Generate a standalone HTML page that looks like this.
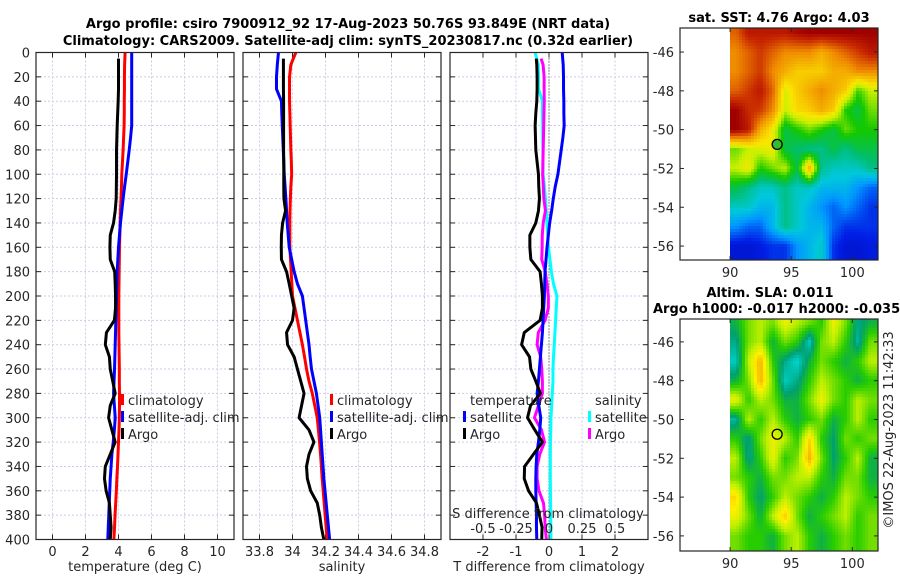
<!DOCTYPE html>
<html><head><meta charset="utf-8">
<style>
html,body{margin:0;padding:0;background:#fff;}
#wrap{position:relative;width:900px;height:580px;overflow:hidden;background:#fff;}
canvas{position:absolute;image-rendering:pixelated;}
svg{position:absolute;left:0;top:0;}
text{font-family:"DejaVu Sans","Liberation Sans",sans-serif;fill:#262626;}
.b{font-weight:bold;fill:#000;}
</style></head>
<body>
<div id="wrap">
<canvas id="sstmap" width="148" height="232" style="left:730px;top:28px;width:148px;height:232px"></canvas>
<canvas id="slamap" width="148" height="232" style="left:730px;top:319px;width:148px;height:232px"></canvas>
<svg id="fig" width="900" height="580" viewBox="0 0 900 580"></svg>
</div>
<script>
// ---- data ----
const climDepth = [0,10,20,30,40,50,60,70,80,90,100,110,120,130,140,150,160,170,180,190,200,210,220,230,240,250,260,270,280,290,300,310,320,330,340,350,360,370,380,390,400];
const argoDepth = [5,10,20,30,40,50,60,70,80,90,100,110,120,130,140,150,160,170,180,190,200,210,220,230,240,250,260,270,280,290,300,310,320,330,340,350,360,370,380,390,400];
const climT = [4.4,4.37,4.36,4.36,4.35,4.35,4.34,4.31,4.28,4.24,4.2,4.18,4.15,4.12,4.1,4.08,4.06,4.05,4.04,4.03,4.02,4.02,4.02,4.02,4.03,4.04,4.05,4.05,4.06,4.06,4.05,4.03,4.0,3.97,3.94,3.9,3.87,3.83,3.79,3.76,3.72];
const satT = [4.8,4.8,4.8,4.8,4.8,4.8,4.8,4.73,4.65,4.56,4.47,4.37,4.28,4.2,4.12,4.06,4.0,3.96,3.92,3.9,3.88,3.86,3.84,3.82,3.8,3.78,3.76,3.73,3.7,3.75,3.8,3.75,3.68,3.6,3.55,3.5,3.47,3.44,3.41,3.38,3.35];
const argoT = [4.0,4.0,4.0,4.0,3.98,3.95,3.92,3.9,3.88,3.88,3.88,3.87,3.86,3.8,3.7,3.5,3.48,3.5,3.77,3.8,3.82,3.82,3.75,3.27,3.2,3.45,3.5,3.65,3.8,3.5,3.4,3.6,3.8,3.5,3.2,3.15,3.25,3.45,3.5,3.55,3.5];
const climS = [34.02,33.99,33.982,33.982,33.982,33.984,33.986,33.988,33.99,33.993,33.995,33.99,33.987,33.985,33.984,33.984,33.984,33.988,33.992,33.996,34.0,34.015,34.03,34.045,34.06,34.073,34.085,34.1,34.12,34.135,34.15,34.157,34.164,34.17,34.175,34.18,34.186,34.192,34.198,34.204,34.21];
const satS = [33.915,33.908,33.903,33.903,33.933,33.935,33.938,33.941,33.944,33.947,33.95,33.955,33.96,33.964,33.968,33.974,33.98,33.995,34.01,34.03,34.06,34.07,34.08,34.09,34.1,34.107,34.115,34.13,34.145,34.155,34.165,34.17,34.175,34.18,34.185,34.19,34.197,34.204,34.211,34.218,34.225];
const argoS = [33.945,33.945,33.945,33.945,33.946,33.946,33.946,33.946,33.946,33.947,33.947,33.947,33.948,33.958,33.94,33.933,33.932,33.933,33.964,33.98,33.995,34.01,34.0,33.964,33.97,34.01,34.03,34.05,34.07,34.055,34.04,34.1,34.13,34.1,34.085,34.09,34.11,34.15,34.165,34.175,34.19];
const tempTicks = [0,2,4,6,8,10];
const salTicks = [33.8,34,34.2,34.4,34.6,34.8];
const tdiffTicks = [-2,-1,0,1,2];
const sdiffTicks = [-0.5,-0.25,0,0.25,0.5];
const depthTicks = [0,20,40,60,80,100,120,140,160,180,200,220,240,260,280,300,320,340,360,380,400];
const latTicks = [-46,-48,-50,-52,-54,-56];
const lonTicks = [90,95,100];
// SST map (jet index 0..1), rows from -45 to -56 lat, cols 90..101 lon
const sstGrid = [
[0.85,0.95,0.95,0.95,0.95,0.98,1,1,1,1,1,1],
[0.8,0.85,0.9,0.85,0.8,0.8,0.8,0.75,0.8,0.85,0.9,0.95],
[0.8,0.85,0.9,0.8,0.75,0.7,0.7,0.7,0.75,0.75,0.8,0.8],
[0.85,0.9,0.95,0.85,0.62,0.7,0.75,0.8,0.75,0.7,0.52,0.6],
[1,0.92,0.9,0.8,0.6,0.68,0.7,0.75,0.7,0.5,0.45,0.55],
[1,0.95,0.75,0.65,0.45,0.5,0.55,0.5,0.45,0.55,0.5,0.5],
[0.55,0.6,0.62,0.65,0.45,0.42,0.4,0.4,0.45,0.4,0.45,0.45],
[0.6,0.65,0.5,0.55,0.6,0.45,0.75,0.4,0.35,0.35,0.35,0.4],
[0.45,0.4,0.35,0.35,0.4,0.35,0.35,0.3,0.3,0.3,0.25,0.2],
[0.35,0.35,0.3,0.3,0.4,0.35,0.3,0.25,0.2,0.25,0.2,0.15],
[0.25,0.2,0.2,0.3,0.4,0.35,0.3,0.3,0.2,0.15,0.15,0.15],
[0.1,0.1,0.12,0.15,0.15,0.25,0.3,0.35,0.15,0.1,0.1,0.12]];
const slaGrid = [
[0.45,0.55,0.6,0.55,0.65,0.6,0.55,0.5,0.65,0.55,0.4,0.45],
[0.4,0.55,0.6,0.45,0.55,0.5,0.35,0.55,0.6,0.5,0.38,0.55],
[0.35,0.6,0.75,0.5,0.4,0.33,0.45,0.55,0.5,0.45,0.5,0.6],
[0.45,0.55,0.75,0.55,0.35,0.4,0.5,0.6,0.55,0.5,0.45,0.5],
[0.65,0.5,0.6,0.55,0.45,0.45,0.55,0.65,0.55,0.5,0.6,0.55],
[0.38,0.6,0.5,0.6,0.5,0.45,0.5,0.55,0.45,0.5,0.6,0.5],
[0.5,0.4,0.55,0.65,0.6,0.5,0.7,0.5,0.42,0.55,0.5,0.55],
[0.6,0.4,0.5,0.65,0.5,0.55,0.75,0.55,0.42,0.5,0.6,0.45],
[0.55,0.5,0.45,0.55,0.55,0.6,0.6,0.5,0.45,0.55,0.55,0.45],
[0.7,0.5,0.42,0.5,0.6,0.55,0.5,0.45,0.5,0.6,0.55,0.5],
[0.65,0.55,0.45,0.6,0.72,0.55,0.45,0.5,0.55,0.6,0.5,0.55],
[0.55,0.5,0.5,0.45,0.55,0.6,0.5,0.45,0.5,0.55,0.5,0.55]];
const argoLon = [93.849];
const argoLat = [-50.76];

// ---- helpers ----
const NS='http://www.w3.org/2000/svg';
const svg=document.getElementById('fig');
function mk(tag,attrs,parent){const e=document.createElementNS(NS,tag);for(const k in attrs)e.setAttribute(k,attrs[k]);(parent||svg).appendChild(e);return e;}
function txt(x,y,s,opt,parent){const e=mk('text',Object.assign({x:x,y:y,'font-size':13},opt||{}),parent);e.textContent=s;return e;}

const Y0=52.5, Y1=539.5;
const yD = d => Y0 + (d/400)*(Y1-Y0);
const panels=[
 {x0:36,x1:234,lo:-1,hi:11,name:'temperature-panel'},
 {x0:243,x1:441,lo:33.7,hi:34.9,name:'salinity-panel'},
 {x0:450,x1:648,lo:-3,hi:3,name:'difference-panel'}];
const xT = v => panels[0].x0 + (v-panels[0].lo)/(panels[0].hi-panels[0].lo)*198;
const xS = v => panels[1].x0 + (v-panels[1].lo)/(panels[1].hi-panels[1].lo)*198;
const xDT = v => panels[2].x0 + (v-panels[2].lo)/(panels[2].hi-panels[2].lo)*198;
const xDS = v => xDT(v*4);
function interp(xs,ys,x){for(let i=0;i<xs.length-1;i++){if(x>=xs[i]&&x<=xs[i+1]){const t=(x-xs[i])/(xs[i+1]-xs[i]);return ys[i]+t*(ys[i+1]-ys[i]);}}return x<xs[0]?ys[0]:ys[ys.length-1];}

function frame(p,xticks,xfn,xlabelFmt){
  const g=mk('g',{});
  
  
  // grid
  xticks.forEach(t=>{const x=xfn(t);const l=mk('line',{x1:x,x2:x,y1:Y0,y2:Y1,stroke:'#c9cde8','stroke-width':1,'stroke-dasharray':'2,2'},g);});
  depthTicks.forEach(d=>{const y=yD(d);const l=mk('line',{x1:p.x0,x2:p.x1,y1:y,y2:y,stroke:'#c9cde8','stroke-width':1,'stroke-dasharray':'2,2'},g);});
  // ticks
  depthTicks.forEach(d=>{const y=yD(d);mk('line',{x1:p.x0,x2:p.x0+5,y1:y,y2:y,stroke:'#262626'},g);mk('line',{x1:p.x1-5,x2:p.x1,y1:y,y2:y,stroke:'#262626'},g);});
  xticks.forEach(t=>{const x=xfn(t);mk('line',{x1:x,x2:x,y1:Y1,y2:Y1-5,stroke:'#262626'},g);mk('line',{x1:x,x2:x,y1:Y0,y2:Y0+5,stroke:'#262626'},g);
    const tl=txt(x,556,xlabelFmt(t),{'text-anchor':'middle'},g);});
  return g;
}
function line(xs,ds,xfn,color,name,w){
  let d='';xs.forEach((v,i)=>{d+=(i?'L':'M')+xfn(v).toFixed(2)+','+yD(ds[i]).toFixed(2);});
  const e=mk('path',{d:d,fill:'none',stroke:color,'stroke-width':w||3,'stroke-linejoin':'round'});
  
  
  return e;
}
function legendEntry(x,y,color,label,name){
  const g=mk('g',{});
  
  
  mk('rect',{x:x,y:y-11,width:3,height:11,fill:color},g);
  txt(x+7,y,label,{},g);
}

// panel 1
frame(panels[0],tempTicks,xT,v=>String(v));
line(climT,climDepth,xT,'#ff0000','temp-climatology-line');
line(satT,climDepth,xT,'#0000ff','temp-satellite-line');
line(argoT,argoDepth,xT,'#000000','temp-argo-line');
// panel 2
frame(panels[1],salTicks,xS,v=>String(v));
line(climS,climDepth,xS,'#ff0000','sal-climatology-line');
line(satS,climDepth,xS,'#0000ff','sal-satellite-line');
line(argoS,argoDepth,xS,'#000000','sal-argo-line');
// panel 3
frame(panels[2],tdiffTicks,xDT,v=>String(v));
{const zl=mk('line',{x1:xDT(0),x2:xDT(0),y1:Y0,y2:Y1,stroke:'#333','stroke-width':1,'stroke-dasharray':'1,2'});}
const dSatT=satT.map((v,i)=>v-climT[i]);
const dArgoT=argoT.map((v,i)=>v-interp(climDepth,climT,argoDepth[i]));
const dSatS=satS.map((v,i)=>v-climS[i]);
const dArgoS=argoS.map((v,i)=>v-interp(climDepth,climS,argoDepth[i]));
line(dSatS,climDepth,xDS,'#00ffff','sdiff-satellite-line');
line(dArgoS,argoDepth,xDS,'#ff00ff','sdiff-argo-line');
line(dSatT,climDepth,xDT,'#0000ff','tdiff-satellite-line');
line(dArgoT,argoDepth,xDT,'#000000','tdiff-argo-line');

// axis boxes
panels.forEach(p=>{const r=mk('rect',{x:p.x0,y:Y0,width:p.x1-p.x0,height:Y1-Y0,fill:'none',stroke:'#262626','stroke-width':1.2});});
// y tick labels
depthTicks.forEach(d=>{const t=txt(30,yD(d)+5,String(d),{'text-anchor':'end'});});
// x axis labels
{let t=txt(135,571,'temperature (deg C)',{'text-anchor':'middle'});
 t=txt(342,571,'salinity',{'text-anchor':'middle'});
 t=txt(549,571,'T difference from climatology',{'text-anchor':'middle'});
 t=txt(548,518,'S difference from climatology',{'text-anchor':'middle'});}
sdiffTicks.forEach(v=>{const t=txt(xDS(v),533,String(v),{'text-anchor':'middle'});});
// legends
legendEntry(121,405,'#ff0000','climatology','legend-climatology');
legendEntry(121,422,'#0000ff','satellite-adj. clim','legend-satellite-adj');
legendEntry(121,439,'#000000','Argo','legend-argo');
legendEntry(330,405,'#ff0000','climatology','legend-climatology-2');
legendEntry(330,422,'#0000ff','satellite-adj. clim','legend-satellite-adj-2');
legendEntry(330,439,'#000000','Argo','legend-argo-2');
{const t=txt(470,405,'temperature');}
legendEntry(463,422,'#0000ff','satellite','legend-t-satellite');
legendEntry(463,439,'#000000','Argo','legend-t-argo');
{const t=txt(595,405,'salinity');}
legendEntry(588,422,'#00ffff','satellite','legend-s-satellite');
legendEntry(588,439,'#ff00ff','Argo','legend-s-argo');
// main titles
{let t=txt(348,28,'Argo profile: csiro 7900912_92 17-Aug-2023 50.76S 93.849E (NRT data)',{'text-anchor':'middle',class:'b'});
 t=txt(348,45,'Climatology: CARS2009. Satellite-adj clim: synTS_20230817.nc (0.32d earlier)',{'text-anchor':'middle',class:'b'});}

// ---- maps ----
function cmap(stops,v){v=Math.max(0,Math.min(1,v));for(let i=0;i<stops.length-1;i++){const a=stops[i],b=stops[i+1];if(v>=a[0]&&v<=b[0]){const t=(v-a[0])/(b[0]-a[0]);return [0,1,2].map(k=>Math.round(a[1][k]+t*(b[1][k]-a[1][k])));}}return stops[stops.length-1][1];}
const jetStops=[[0,[0,0,150]],[0.13,[0,30,230]],[0.25,[0,150,255]],[0.33,[0,200,220]],[0.42,[0,190,110]],[0.5,[20,200,0]],[0.6,[200,240,0]],[0.66,[250,230,0]],[0.8,[240,140,0]],[0.92,[200,40,0]],[1,[160,0,0]]];
const slaStops=[[0,[0,100,200]],[0.33,[0,215,215]],[0.42,[0,160,110]],[0.5,[40,205,0]],[0.6,[190,240,0]],[0.67,[255,240,0]],[0.8,[240,140,0]],[1,[200,40,0]]];
// map axes: lon 85.9..102.1 -> x 680..878; lat for map1 top -44.76 ; map2 top -44.82
function mapImg(id,grid,stops,latTop,pxPerDeg){
  const c=document.getElementById(id),ctx=c.getContext('2d');const im=ctx.createImageData(148,232);
  const rows=grid.length,cols=grid[0].length;
  for(let py=0;py<232;py+=3)for(let px=0;px<148;px+=3){
    const lon=90+(px+1.5)/12.2, lat=latTop-(py+1.5)/pxPerDeg;
    let gx=(lon-90.5), gy=(-45-lat);
    gx=Math.max(0,Math.min(cols-1.001,gx)); gy=Math.max(0,Math.min(rows-1.001,gy));
    const i0=Math.floor(gx),j0=Math.floor(gy),tx=gx-i0,ty=gy-j0;
    const v=(grid[j0][i0]*(1-tx)+grid[j0][i0+1]*tx)*(1-ty)+(grid[j0+1][i0]*(1-tx)+grid[j0+1][i0+1]*tx)*ty;
    const col=cmap(stops,v);
    for(let dy=0;dy<3;dy++)for(let dx=0;dx<3;dx++){const X=px+dx,Y=py+dy;if(X<148&&Y<232){const k=(Y*148+X)*4;im.data[k]=col[0];im.data[k+1]=col[1];im.data[k+2]=col[2];im.data[k+3]=255;}}
  }
  ctx.putImageData(im,0,0);
}
mapImg('sstmap',sstGrid,jetStops,-44.76,19.4);
mapImg('slamap',slaGrid,slaStops,-44.82,19.4);
function mapAxes(top,bot,latTop,name,circleFill){
  const g=mk('g',{});
  
  
  const lonX=v=>680+(v-85.9)/16.2*198;
  const latY=v=>top+(latTop-v)*19.4;
  mk('rect',{x:680,y:top,width:198,height:bot-top,fill:'none',stroke:'#262626','stroke-width':1.2},g);
  latTicks.forEach(v=>{const y=latY(v);mk('line',{x1:680,x2:684,y1:y,y2:y,stroke:'#262626'},g);mk('line',{x1:874,x2:878,y1:y,y2:y,stroke:'#262626'},g);
    const t=txt(674,y+5,String(v),{'text-anchor':'end'},g);});
  lonTicks.forEach(v=>{const x=lonX(v);mk('line',{x1:x,x2:x,y1:bot,y2:bot-4,stroke:'#262626'},g);mk('line',{x1:x,x2:x,y1:top,y2:top+4,stroke:'#262626'},g);
    const t=txt(x,bot+17,String(v),{'text-anchor':'middle'},g);});
  const c=mk('circle',{cx:lonX(argoLon[0]),cy:latY(argoLat[0]),r:5,fill:circleFill,stroke:'#000','stroke-width':1.3},g);
  
  
}
mapAxes(28,260,-44.76,'sst-map-axes','#33bb33');
mapAxes(319,551,-44.82,'sla-map-axes','none');
{let t=txt(779,22,'sat. SST: 4.76 Argo: 4.03',{'text-anchor':'middle',class:'b'});
 t=txt(770,297,'Altim. SLA: 0.011',{'text-anchor':'middle',class:'b'});
 t=txt(653,313,'Argo h1000: -0.017 h2000: -0.035',{class:'b'});
 t=txt(0,0,'©IMOS 22-Aug-2023 11:42:33',{'text-anchor':'middle',transform:'translate(893,430) rotate(-90)'});}
</script>
</body></html>
